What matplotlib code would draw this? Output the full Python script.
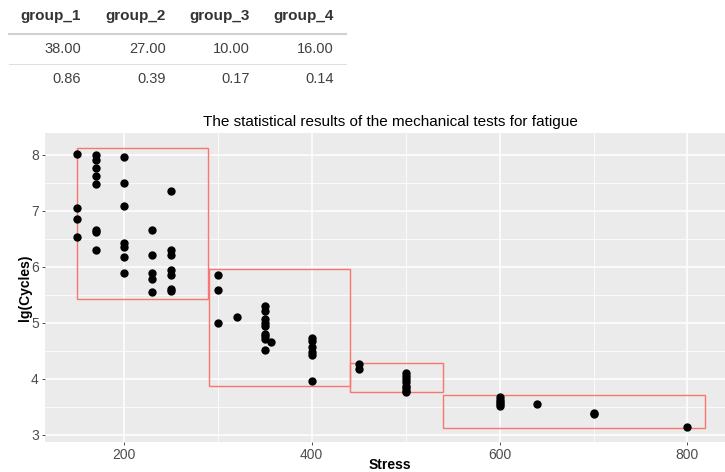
from matplotlib import pyplot as plt
from matplotlib.patches import Rectangle
import numpy as np

plt.rcParams['font.family'] = ['Liberation Sans', 'DejaVu Sans']

# table above the plot
table_header = ["group_1", "group_2", "group_3", "group_4"]
table_row_1 = ["38.00", "27.00", "10.00", "16.00"]
table_row_2 = ["0.86", "0.39", "0.17", "0.14"]

# fatigue test points (stress, lg(cycles))
stress = [150, 150, 150, 150,
	170, 170, 170, 170, 170, 170, 170, 170,
	200, 200, 200, 200, 200, 200, 200,
	230, 230, 230, 230, 230,
	250, 250, 250, 250, 250, 250, 250,
	300, 300, 300, 320,
	350, 350, 350, 350, 350, 350, 350, 350, 350, 357,
	400, 400, 400, 400, 400, 400,
	450, 450,
	500, 500, 500, 500, 500, 500, 500, 500,
	600, 600, 600, 600, 600, 640, 700, 700, 800]
lg_cycles = [8.02, 7.05, 6.86, 6.54,
	8.00, 7.91, 7.76, 7.63, 7.48, 6.66, 6.63, 6.30,
	7.97, 7.49, 7.08, 6.42, 6.36, 6.17, 5.89,
	6.66, 6.21, 5.89, 5.79, 5.55,
	7.35, 6.30, 6.22, 5.95, 5.86, 5.60, 5.57,
	5.86, 5.59, 5.00, 5.11,
	5.30, 5.22, 5.07, 5.00, 4.95, 4.80, 4.76, 4.71, 4.51, 4.66,
	4.74, 4.67, 4.57, 4.49, 4.42, 3.96,
	4.27, 4.18,
	4.10, 4.06, 4.00, 3.94, 3.88, 3.83, 3.79, 3.77,
	3.68, 3.62, 3.58, 3.55, 3.52, 3.56, 3.39, 3.37, 3.15]

# group boxes
box_xmin = [150, 291, 441, 540]
box_xmax = [290, 441, 540, 819]
box_ymin = [5.43, 3.87, 3.76, 3.13]
box_ymax = [8.125, 5.96, 4.28, 3.71]

fig = plt.figure(figsize=(7.25, 4.72), dpi=100)

# table drawn as text in figure pixel coords
col_right = [81, 166, 250, 334]
W, H = 725, 472
def fx(px):
	return px/W
def fy(py):
	return 1-py/H
for i, col in enumerate(col_right):
	fig.text(fx(col), fy(16), table_header[i], ha='right', va='center', fontsize=11, fontweight='bold', color='#333333')
	fig.text(fx(col), fy(49), table_row_1[i], ha='right', va='center', fontsize=10.5, color='#404040')
	fig.text(fx(col), fy(79), table_row_2[i], ha='right', va='center', fontsize=10.5, color='#404040')
fig.add_artist(plt.Line2D([fx(9), fx(346)], [fy(34), fy(34)], color='#d0d0d0', linewidth=1.5))
fig.add_artist(plt.Line2D([fx(9), fx(346)], [fy(63.5), fy(63.5)], color='#e0e0e0', linewidth=0.8))

ax = fig.add_axes([45/W, 30/H, 1-45/W, 309/H])
ax.set_facecolor('#EBEBEB')
for s in ax.spines.values():
	s.set_visible(False)
ax.set_xlim(116, 840)
ax.set_ylim(2.875, 8.39)
ax.set_xticks([200, 400, 600, 800])
ax.set_xticks([300, 500, 700], minor=True)
ax.set_yticks([3, 4, 5, 6, 7, 8])
ax.set_yticks(np.arange(3.5, 8.5, 1.0), minor=True)
ax.grid(which='major', color='white', linewidth=1.1)
ax.grid(which='minor', color='white', linewidth=0.55)
ax.set_axisbelow(True)
ax.tick_params(which='major', colors='#333333', labelcolor='#4D4D4D', labelsize=10, length=2.5, width=0.6, pad=2)
ax.tick_params(which='minor', length=0)

for i in range(len(box_xmin)):
	ax.add_patch(Rectangle((box_xmin[i], box_ymin[i]), box_xmax[i]-box_xmin[i], box_ymax[i]-box_ymin[i],
		fill=False, edgecolor='#F8766D', linewidth=1.0, zorder=2))

ax.scatter(stress, lg_cycles, s=36, color='black', zorder=3, linewidths=0)

ax.set_xlabel("Stress", fontsize=10, fontweight='bold', va='center')
ax.xaxis.set_label_coords((390-45)/(W-45), -23/309)
ax.set_ylabel("lg(Cycles)", fontsize=10, fontweight='bold', va='center')
ax.yaxis.set_label_coords(-20/(W-45), 0.5)
fig.text(fx(390), fy(122), "The statistical results of the mechanical tests for fatigue",
	ha='center', va='center', fontsize=11, color='black')

fig.savefig("out.png", dpi=100)
